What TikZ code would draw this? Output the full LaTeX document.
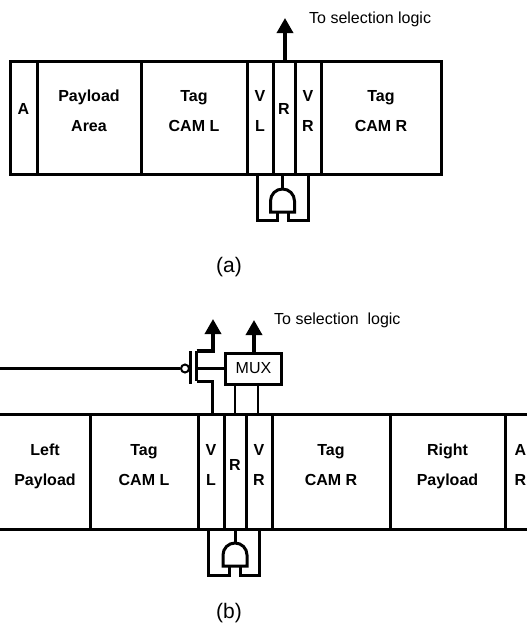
\documentclass[tikz,border=0pt]{standalone}
\usepackage{fontspec}
\setmainfont{Liberation Sans}
\usetikzlibrary{arrows.meta, positioning, calc}

\begin{document}
\begin{tikzpicture}[
    x=1pt,y=-1pt,
    cell/.style={draw,line width=3pt,inner sep=0pt,outer sep=0pt},
    cella/.style={cell,minimum height=113pt},
    cellb/.style={cell,minimum height=115pt},
    txt/.style={font=\fontsize{16}{30}\selectfont\bfseries,align=center,
                inner sep=0pt,yshift=5.5pt,text depth=3pt},
    wall/.style={line width=3pt},
    wire/.style={line width=3pt},
    thinwire/.style={line width=2.8pt},
    arr/.style={-{Triangle[length=15pt,width=16pt]},line width=3.4pt},
    note/.style={font=\fontsize{16}{19}\selectfont,inner sep=0pt,anchor=west},
    captxt/.style={font=\fontsize{21}{25}\selectfont,inner sep=0pt},
    mux/.style={draw,line width=3pt,font=\fontsize{16}{19}\selectfont,inner sep=0pt,
                minimum width=56pt,minimum height=31pt},
    bub/.style={circle,draw,line width=2pt,fill=white,inner sep=0pt,minimum size=8pt},
    pics/andgate/.style={code={
        \draw[wire] (-12,23) -- (-12,12) arc (180:360:12) -- (12,23) -- cycle;
        \coordinate (-out) at (0,0);
        \coordinate (-ina) at (-5.5,23);
        \coordinate (-inb) at (5.5,23);
    }}
  ]
    \useasboundingbox (0,0) rectangle (527,627);

    % (a)
    \node[cella,minimum width=27pt,label={[txt,yshift=2pt]center:A}] (aa) at (23.5,117.5) {};
    \node[cella,minimum width=104pt,label={[txt]center:{Payload\\Area}}] (paya) at (89,117.5) {};
    \node[cella,minimum width=106pt,label={[txt]center:{Tag\\CAM L}}] (tagla) at (194,117.5) {};
    \node[cella,minimum width=26pt,label={[txt]center:{V\\L}}] (vla) at (260,117.5) {};
    \node[cella,minimum width=22pt,label={[txt,yshift=2pt]center:R}] (ra) at (284,117.5) {};
    \node[cella,minimum width=26pt,label={[txt]center:{V\\R}}] (vra) at (308,117.5) {};
    \node[cella,minimum width=120pt,label={[txt]center:{Tag\\CAM R}}] (tagra) at (381,117.5) {};

    \coordinate (outa) at (285,18);
    \draw[arr] (ra.north -| outa) -- (outa);
    \node[note] (sela) at (309,19) {To selection logic};

    \pic (ga) at (282.5,189) {andgate};
    \coordinate (la) at (257.5,174);
    \draw[wire] (ga-out) -- (ga-out |- ra.south);
    \draw[wire] (ga-ina) -- ++(0,8) -| (la);
    \draw[wire] (ga-inb) -- ++(0,8) -| (vra.south);
    \node[captxt] (capa) at (229,267) {(a)};

    % (b)
    \node[cellb,minimum width=108pt,label={[txt]center:{Tag\\CAM L}}] (taglb) at (144,471.5) {};
    \node[cellb,minimum width=26pt,label={[txt]center:{V\\L}}] (vlb) at (211,471.5) {};
    \node[cellb,minimum width=22pt,label={[txt]center:R}] (rb) at (235,471.5) {};
    \node[cellb,minimum width=26pt,label={[txt]center:{V\\R}}] (vrb) at (259,471.5) {};
    \node[cellb,minimum width=118pt,label={[txt]center:{Tag\\CAM R}}] (tagrb) at (331,471.5) {};
    \node[cellb,minimum width=115pt,label={[txt]center:{Right\\Payload}}] (payr) at (447.5,471.5) {};
    \node[txt] (payl) at (45,471.5) {Left\\Payload};
    \node[txt] (arb) at (520.5,471.5) {A\\R};
    \coordinate (tl) at (0,414);
    \coordinate (bl) at (0,529);
    \coordinate (tr) at (527,414);
    \coordinate (br) at (527,529);
    \draw[wall] (tl) -- (taglb.north west);
    \draw[wall] (bl) -- (taglb.south west);
    \draw[wall] (payr.north east) -- (tr);
    \draw[wall] (payr.south east) -- (br);

    \node[mux] (mx) at (253.5,368.5) {MUX};
    \coordinate (outm) at (254,320);
    \coordinate (outv) at (213,319);
    \draw[arr] (mx.north -| outm) -- (outm);
    \node[note] (selb) at (274,320) {To selection\ \ logic};
    \coordinate (ma) at (235,414);
    \coordinate (mb) at (258,414);
    \draw[thinwire] (ma) -- (ma |- mx.south);
    \draw[thinwire] (mb) -- (mb |- mx.south);

    % pass transistor
    \coordinate (en) at (0,368.5);
    \coordinate (cht) at (196.5,351);
    \coordinate (chb) at (196.5,381);
    \coordinate (gatet) at (190.5,351);
    \coordinate (gateb) at (190.5,384);
    \coordinate (dr) at (212,414);
    \node[bub] (inv) at (185,368.5) {};
    \draw[wire] (en) -- (inv);
    \draw[wire] (gatet) -- (gateb);
    \draw[wire] (cht) -- (chb);
    \draw[thinwire] (cht |- mx.west) -- (mx.west);
    \draw[wire] (chb) -| (dr);
    \draw[arr] (cht) -| (outv);

    \pic (gb) at (235,543) {andgate};
    \coordinate (lb) at (208,529);
    \draw[wire] (gb-out) -- (gb-out |- rb.south);
    \draw[wire] (gb-ina) -- ++(0,9) -| (lb);
    \draw[wire] (gb-inb) -- ++(0,9) -| (vrb.south);
    \node[captxt] (capb) at (229,613) {(b)};
\end{tikzpicture}
\end{document}
